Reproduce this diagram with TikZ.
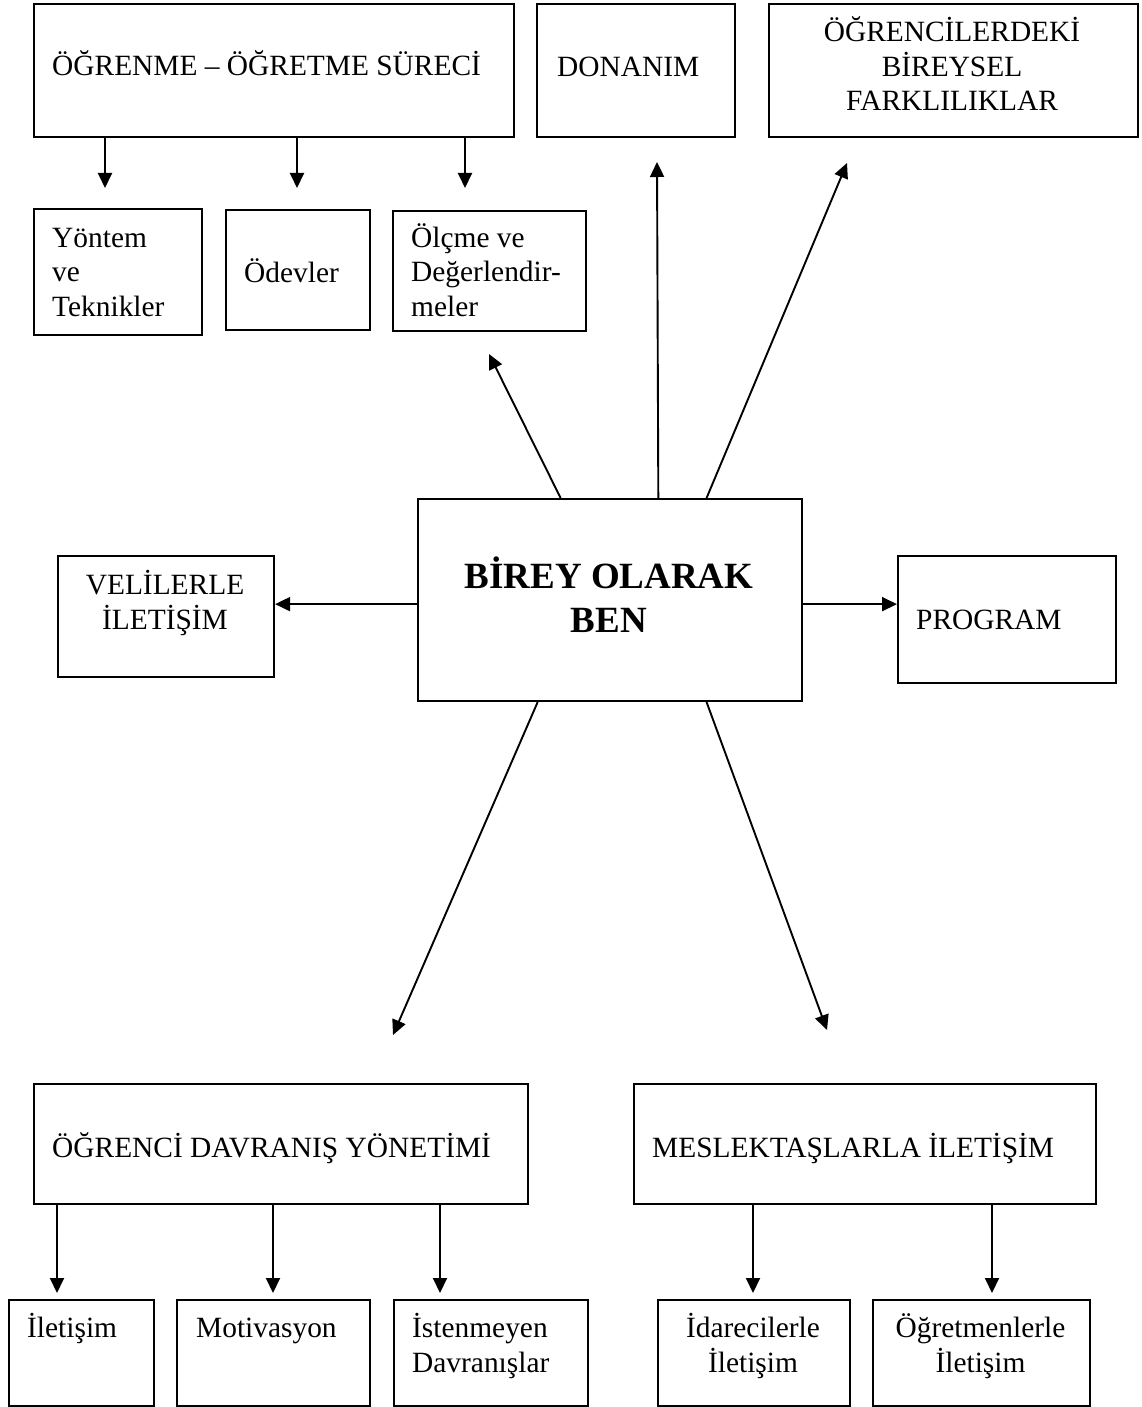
\documentclass[tikz,border=0pt]{standalone}
\usepackage{fontspec}
\setmainfont{Liberation Serif}
\usetikzlibrary{arrows.meta,calc}
\begin{document}
\begin{tikzpicture}[x=1pt,y=-1pt,
  bx/.style={draw,line width=2.1pt,inner sep=0pt,anchor=north west},
  tx/.style={inner sep=0pt,font=\fontsize{29.4}{34.5}\selectfont},
  bigtx/.style={inner sep=0pt,font=\bfseries\fontsize{37}{44}\selectfont},
  arr/.style={line width=1.9pt,-{Triangle[length=15pt,width=14pt]}}]
\useasboundingbox[fill=white] (0,0) rectangle (1141,1407);

% boxes
\node[bx,minimum width=480pt,minimum height=133pt] (ogr) at (33,3) {};
\node[bx,minimum width=198pt,minimum height=133pt] (don) at (536,3) {};
\node[bx,minimum width=369pt,minimum height=133pt] (ind) at (768,3) {};
\node[bx,minimum width=168pt,minimum height=126pt] (yon) at (33,208) {};
\node[bx,minimum width=144pt,minimum height=120pt] (odv) at (225,209) {};
\node[bx,minimum width=193pt,minimum height=120pt] (olc) at (392,210) {};
\node[bx,minimum width=216pt,minimum height=121pt] (vel) at (57,555) {};
\node[bx,minimum width=384pt,minimum height=202pt] (cen) at (417,498) {};
\node[bx,minimum width=218pt,minimum height=127pt] (prg) at (897,555) {};
\node[bx,minimum width=494pt,minimum height=120pt] (odb) at (33,1083) {};
\node[bx,minimum width=462pt,minimum height=120pt] (mes) at (633,1083) {};
\node[bx,minimum width=145pt,minimum height=106pt] (ile) at (8,1299) {};
\node[bx,minimum width=193pt,minimum height=106pt] (mot) at (176,1299) {};
\node[bx,minimum width=194pt,minimum height=106pt] (ist) at (393,1299) {};
\node[bx,minimum width=192pt,minimum height=106pt] (ida) at (657,1299) {};
\node[bx,minimum width=217pt,minimum height=106pt] (ogt) at (872,1299) {};

% texts (anchor base = baseline of the last line)
\node[tx,anchor=base west] (ogr-t) at (52,76) {ÖĞRENME – ÖĞRETME SÜRECİ};
\node[tx,anchor=base west] (don-t) at (557,77) {DONANIM};
\node[tx,anchor=base,align=center] (ind-t) at (952,111) {ÖĞRENCİLERDEKİ\\BİREYSEL\\FARKLILIKLAR};
\node[tx,anchor=base west,align=left] (yon-t) at (52,316) {Yöntem\\ve\\Teknikler};
\node[tx,anchor=base west] (odv-t) at (244,282) {Ödevler};
\node[tx,anchor=base west,align=left] (olc-t) at (411,316) {Ölçme ve\\Değerlendir-\\meler};
\node[tx,anchor=base,align=center] (vel-t) at (165,629) {VELİLERLE\\İLETİŞİM};
\node[bigtx,anchor=base,align=center] (cen-t) at (609,632) {BİREY OLARAK\\BEN};
\node[tx,anchor=base west] (prg-t) at (916,629) {PROGRAM};
\node[tx,anchor=base west] (odb-t) at (52,1157) {ÖĞRENCİ DAVRANIŞ YÖNETİMİ};
\node[tx,anchor=base west] (mes-t) at (652,1157) {MESLEKTAŞLARLA İLETİŞİM};
\node[tx,anchor=base west] (ile-t) at (27,1337) {İletişim};
\node[tx,anchor=base west] (mot-t) at (196,1337) {Motivasyon};
\node[tx,anchor=base west,align=left] (ist-t) at (412,1372) {İstenmeyen\\Davranışlar};
\node[tx,anchor=base,align=center] (ida-t) at (753,1372) {İdarecilerle\\İletişim};
\node[tx,anchor=base,align=center] (ogt-t) at (980.5,1372) {Öğretmenlerle\\İletişim};

% tip coordinates
\coordinate (t1) at (105,188);
\coordinate (t2) at (297,188);
\coordinate (t3) at (465,188);
\coordinate (tO) at (489,354);
\coordinate (tD) at (657,162);
\coordinate (tI) at (847,163);
\coordinate (tBL) at (393,1035);
\coordinate (tBR) at (827,1030);
\coordinate (b1) at (57,1293);
\coordinate (b2) at (273,1293);
\coordinate (b3) at (440,1293);
\coordinate (b4) at (753,1293);
\coordinate (b5) at (992,1293);
\coordinate (lm) at ($(cen.north west)!0.52!(cen.south west)$);
\coordinate (rm) at ($(cen.north east)!0.52!(cen.south east)$);

% arrows top group
\draw[arr] (ogr.south -| t1) -- (t1);
\draw[arr] (ogr.south -| t2) -- (t2);
\draw[arr] (ogr.south -| t3) -- (t3);

% arrows from centre
\draw[arr] ($(cen.north west)!0.372!(cen.north east)$) -- (tO);
\draw[arr] ($(cen.north west)!0.625!(cen.north east)$) -- (tD);
\draw[arr] ($(cen.north west)!0.75!(cen.north east)$) -- (tI);
\draw[arr] (lm) -- (vel.east |- lm);
\draw[arr] (rm) -- (prg.west |- rm);
\draw[arr] ($(cen.south west)!0.3125!(cen.south east)$) -- (tBL);
\draw[arr] ($(cen.south west)!0.75!(cen.south east)$) -- (tBR);

% arrows bottom groups
\draw[arr] (odb.south -| b1) -- (b1);
\draw[arr] (odb.south -| b2) -- (b2);
\draw[arr] (odb.south -| b3) -- (b3);
\draw[arr] (mes.south -| b4) -- (b4);
\draw[arr] (mes.south -| b5) -- (b5);
\end{tikzpicture}
\end{document}
